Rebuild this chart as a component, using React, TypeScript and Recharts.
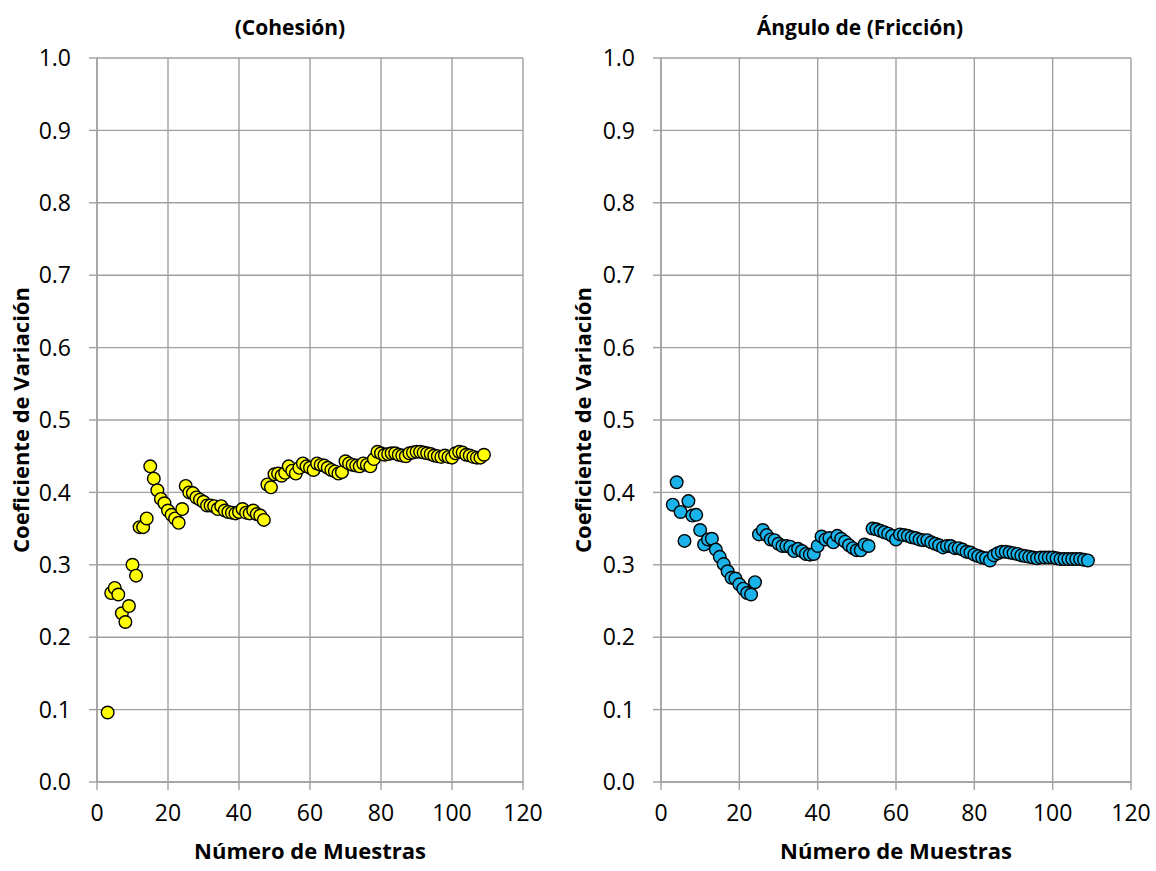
import React from "react";
import { ScatterChart, Scatter, XAxis, YAxis, CartesianGrid } from "recharts";

const sampleNumbers = [
  3, 4, 5, 6, 7, 8, 9, 10, 11, 12, 13, 14, 15, 16, 17, 18, 19, 20, 21, 22,
  23, 24, 25, 26, 27, 28, 29, 30, 31, 32, 33, 34, 35, 36, 37, 38, 39, 40, 41, 42,
  43, 44, 45, 46, 47, 48, 49, 50, 51, 52, 53, 54, 55, 56, 57, 58, 59, 60, 61, 62,
  63, 64, 65, 66, 67, 68, 69, 70, 71, 72, 73, 74, 75, 76, 77, 78, 79, 80, 81, 82,
  83, 84, 85, 86, 87, 88, 89, 90, 91, 92, 93, 94, 95, 96, 97, 98, 99, 100, 101, 102,
  103, 104, 105, 106, 107, 108, 109,
];

const cohesionCV = [
  0.096, 0.261, 0.268, 0.259, 0.233, 0.221, 0.243, 0.3, 0.285, 0.352,
  0.352, 0.364, 0.436, 0.419, 0.403, 0.391, 0.385, 0.375, 0.369, 0.364,
  0.358, 0.377, 0.409, 0.4, 0.399, 0.393, 0.39, 0.387, 0.382, 0.382,
  0.381, 0.377, 0.381, 0.375, 0.373, 0.372, 0.371, 0.373, 0.377, 0.372,
  0.371, 0.375, 0.37, 0.368, 0.362, 0.411, 0.407, 0.425, 0.426, 0.423,
  0.427, 0.436, 0.43, 0.426, 0.434, 0.44, 0.436, 0.434, 0.431, 0.44,
  0.438, 0.437, 0.434, 0.431, 0.429, 0.426, 0.428, 0.443, 0.44, 0.438,
  0.437, 0.436, 0.44, 0.438, 0.436, 0.446, 0.456, 0.454, 0.452, 0.453,
  0.454, 0.454, 0.452, 0.451, 0.45, 0.454, 0.455, 0.456, 0.456, 0.455,
  0.454, 0.453, 0.451, 0.45, 0.449, 0.451, 0.449, 0.448, 0.454, 0.456,
  0.455, 0.452, 0.451, 0.449, 0.448, 0.448, 0.452,
];

const frictionCV = [
  0.383, 0.414, 0.373, 0.333, 0.388, 0.368, 0.369, 0.348, 0.328, 0.335,
  0.336, 0.321, 0.311, 0.301, 0.291, 0.282, 0.281, 0.273, 0.267, 0.261,
  0.259, 0.276, 0.342, 0.348, 0.341, 0.335, 0.334, 0.329, 0.326, 0.326,
  0.325, 0.319, 0.322, 0.319, 0.315, 0.314, 0.315, 0.326, 0.339, 0.335,
  0.337, 0.331, 0.34, 0.336, 0.332, 0.327, 0.323, 0.32, 0.32, 0.328,
  0.326, 0.35, 0.349, 0.347, 0.345, 0.343, 0.34, 0.335, 0.342, 0.341,
  0.34, 0.338, 0.337, 0.335, 0.334, 0.334, 0.331, 0.329, 0.327, 0.324,
  0.326, 0.326, 0.323, 0.323, 0.321, 0.318, 0.317, 0.314, 0.312, 0.31,
  0.309, 0.306, 0.313, 0.316, 0.318, 0.318, 0.317, 0.316, 0.315, 0.313,
  0.312, 0.311, 0.31, 0.309, 0.31, 0.31, 0.31, 0.31, 0.309, 0.308,
  0.308, 0.308, 0.308, 0.308, 0.308, 0.307, 0.306,
];

const xTicks = [0, 20, 40, 60, 80, 100, 120];
const yTicks = [0, 0.1, 0.2, 0.3, 0.4, 0.5, 0.6, 0.7, 0.8, 0.9, 1.0];

const chartTitles = ["(Cohesión)", "Ángulo de (Fricción)"];
const xAxisTitle = "Número de Muestras";
const yAxisTitle = "Coeficiente de Variación";

const FONT = "'Open Sans', 'Noto Sans', sans-serif";
const GRID = "#a0a0a0";

const cohesionData = sampleNumbers.map((x, i) => ({ x, y: cohesionCV[i] }));
const frictionData = sampleNumbers.map((x, i) => ({ x, y: frictionCV[i] }));

const makeDot = (fill: string) => (props: any) => {
  const { cx, cy } = props;
  if (cx == null || cy == null) return <g />;
  return <circle cx={cx} cy={cy} r={6.3} fill={fill} stroke="#000" strokeWidth={1.4} />;
};

type PanelProps = {
  left: number;
  width: number;
  marginLeft: number;
  marginRight: number;
  data: { x: number; y: number }[];
  fill: string;
  title: string;
  titleX: number;
  yTitleX: number;
};

function Panel(p: PanelProps) {
  const plotLeft = p.marginLeft + 60;
  const plotRight = p.width - p.marginRight;
  const plotCenter = (plotLeft + plotRight) / 2;
  return (
    <div style={{ position: "absolute", left: p.left, top: 0, width: p.width, height: 871 }}>
      <ScatterChart
        width={p.width}
        height={871}
        margin={{ top: 58, right: p.marginRight, bottom: 49, left: p.marginLeft }}
      >
        <CartesianGrid stroke={GRID} strokeWidth={1.4} horizontalValues={yTicks} verticalValues={xTicks} />
        <XAxis
          type="number"
          dataKey="x"
          domain={[0, 120]}
          ticks={xTicks}
          interval={0}
          height={40}
          tickSize={8}
          tickMargin={15}
          axisLine={{ stroke: GRID, strokeWidth: 1.4 }}
          tickLine={{ stroke: GRID, strokeWidth: 1.4 }}
          tick={{ fill: "#000", fontSize: 23, fontFamily: FONT }}
        />
        <YAxis
          type="number"
          dataKey="y"
          domain={[0, 1]}
          ticks={yTicks}
          interval={0}
          width={60}
          tickSize={8}
          tickMargin={18}
          tickFormatter={(v: number) => v.toFixed(1)}
          axisLine={{ stroke: GRID, strokeWidth: 1.4 }}
          tickLine={{ stroke: GRID, strokeWidth: 1.4 }}
          tick={{ fill: "#000", fontSize: 23, fontFamily: FONT }}
        />
        <Scatter data={p.data} shape={makeDot(p.fill)} isAnimationActive={false} />
      </ScatterChart>
      <svg
        width={p.width}
        height={871}
        style={{ position: "absolute", left: 0, top: 0, pointerEvents: "none" }}
      >
        <text
          x={p.titleX}
          y={27}
          textAnchor="middle"
          dominantBaseline="central"
          fontFamily={FONT}
          fontWeight="bold"
          fontSize={21}
          fill="#000"
        >
          {p.title}
        </text>
        <text
          x={plotCenter}
          y={850}
          textAnchor="middle"
          dominantBaseline="central"
          fontFamily={FONT}
          fontWeight="bold"
          fontSize={22}
          fill="#000"
        >
          {xAxisTitle}
        </text>
        <text
          x={p.yTitleX}
          y={420}
          textAnchor="middle"
          dominantBaseline="central"
          fontFamily={FONT}
          fontWeight="bold"
          fontSize={22}
          fill="#000"
          transform={`rotate(-90 ${p.yTitleX} 420)`}
        >
          {yAxisTitle}
        </text>
      </svg>
    </div>
  );
}

export default function App() {
  return (
    <div style={{ position: "absolute", left: 0, top: 0, width: 1156, height: 871, background: "#fff" }}>
      <Panel
        left={0}
        width={580}
        marginLeft={37}
        marginRight={57}
        data={cohesionData}
        fill="#ffff00"
        title={chartTitles[0]}
        titleX={290}
        yTitleX={20}
      />
      <Panel
        left={560}
        width={596}
        marginLeft={41}
        marginRight={25}
        data={frictionData}
        fill="#19b3ea"
        title={chartTitles[1]}
        titleX={300}
        yTitleX={22}
      />
    </div>
  );
}
